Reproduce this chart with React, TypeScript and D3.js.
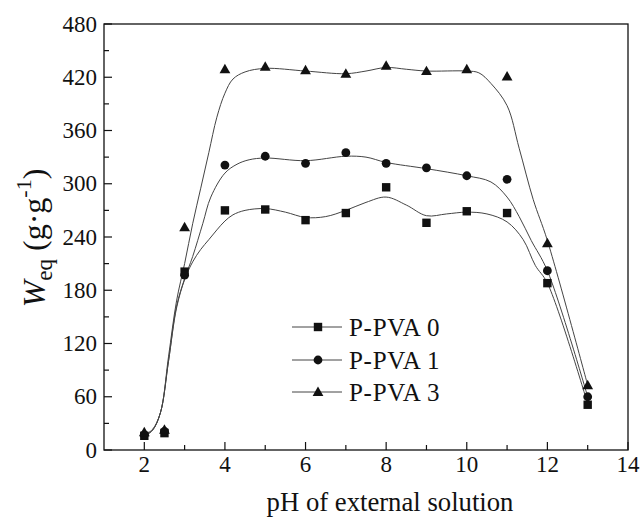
import React from "react";
import * as d3 from "d3";

const W = 642, H = 519;
const xTicksMajor = [2, 4, 6, 8, 10, 12, 14];
const xTicksMinor = [3, 5, 7, 9, 11, 13];
const yTicksMajor = [0, 60, 120, 180, 240, 300, 360, 420, 480];
const yTicksMinor = [30, 90, 150, 210, 270, 330, 390, 450];

const seriesNames = ["P-PVA 0", "P-PVA 1", "P-PVA 3"];
const pH = [2, 2.5, 3, 4, 5, 6, 7, 8, 9, 10, 11, 12, 13];
const pva0 = [16, 19, 201, 270, 271, 259, 267, 296, 256, 269, 267, 188, 51];
const pva1 = [17, 21, 197, 321, 331, 323, 335, 323, 318, 309, 305, 202, 60];
const pva3 = [20, 23, 251, 429, 432, 428, 424, 433, 427, 429, 421, 233, 73];

// fitted (smoothed) curves
const fitX0 = [2, 2.2, 2.4, 2.6, 2.8, 3, 3.2, 3.4, 3.6, 3.8, 4, 4.2, 4.5, 5, 5.5, 6, 6.5, 7, 7.5, 8, 8.5, 9, 9.5, 10, 10.5, 11, 11.4, 11.7, 12, 13];
const fitY0 = [16, 22, 42, 100, 160, 192, 212, 226, 237, 248, 258, 265, 270, 272, 268, 262, 263, 270, 279, 285, 276, 264, 266, 268, 266, 257, 237, 208, 188, 52];
const fitX1 = [2, 2.2, 2.4, 2.6, 2.8, 3, 3.2, 3.45, 3.65, 4, 4.3, 4.6, 5, 6, 7, 7.5, 8, 9, 10, 10.6, 11, 11.3, 11.6, 12, 13];
const fitY1 = [16, 22, 42, 100, 162, 193, 218, 255, 285, 312, 322, 327, 329, 326, 331, 330, 324, 317, 309, 302, 285, 263, 236, 202, 60];
const fitX3 = [2, 2.2, 2.4, 2.6, 2.8, 3, 3.2, 3.4, 3.6, 3.8, 4, 4.2, 4.5, 5, 6, 7, 7.5, 8, 8.5, 9, 10, 10.3, 10.6, 11, 11.3, 11.65, 12, 13];
const fitY3 = [17, 23, 42, 105, 168, 210, 255, 295, 335, 375, 402, 418, 426, 430, 427, 424, 427, 431, 429, 427, 427, 425, 413, 388, 340, 282, 236, 73];

const x = d3.scaleLinear().domain([1, 14]).range([104, 628]);
const y = d3.scaleLinear().domain([0, 480]).range([450, 24]);

const FONT = "'Liberation Serif', 'Times New Roman', serif";

function Marker({ kind, cx, cy }: { kind: number; cx: number; cy: number }) {
  if (kind === 0) return <rect x={cx - 4.2} y={cy - 4.2} width={8.4} height={8.4} fill="#111" />;
  if (kind === 1) return <circle cx={cx} cy={cy} r={4.4} fill="#111" />;
  const s = 5.4;
  return <path d={`M${cx},${cy - s}L${cx + s},${cy + s * 0.75}L${cx - s},${cy + s * 0.75}Z`} fill="#111" />;
}

export default function App() {
  const line = d3.line<[number, number]>().x(d => x(d[0])).y(d => y(d[1])).curve(d3.curveCatmullRom.alpha(0.5));
  const fits = [
    fitX0.map((v, i) => [v, fitY0[i]] as [number, number]),
    fitX1.map((v, i) => [v, fitY1[i]] as [number, number]),
    fitX3.map((v, i) => [v, fitY3[i]] as [number, number]),
  ];
  const data = [pva0, pva1, pva3];
  const legendY = [327, 360, 392];
  return (
    <svg width={W} height={H} style={{ position: "absolute", left: 0, top: 0, background: "#fff" }}>
      <g fontFamily={FONT}>
      {fits.map((f, i) => (
        <path key={i} d={line(f) || ""} fill="none" stroke="#444" strokeWidth={1} />
      ))}
      {data.map((s, k) => s.map((v, i) => <Marker key={k + "-" + i} kind={k} cx={x(pH[i])} cy={y(v)} />))}
      <rect x={104} y={24} width={524} height={426} fill="none" stroke="#111" strokeWidth={1.3} />
      {xTicksMajor.map(t => (
        <g key={"xm" + t}>
          <line x1={x(t)} x2={x(t)} y1={450} y2={442} stroke="#111" strokeWidth={1.2} />
          <text x={x(t)} y={472} fontSize={23} textAnchor="middle" fill="#111">{t}</text>
        </g>
      ))}
      {xTicksMinor.map(t => (
        <line key={"xn" + t} x1={x(t)} x2={x(t)} y1={450} y2={445} stroke="#111" strokeWidth={1.2} />
      ))}
      {yTicksMajor.map(t => (
        <g key={"ym" + t}>
          <line x1={104} x2={112} y1={y(t)} y2={y(t)} stroke="#111" strokeWidth={1.2} />
          <text x={97} y={y(t) + 7.5} fontSize={23} textAnchor="end" fill="#111">{t}</text>
        </g>
      ))}
      {yTicksMinor.map(t => (
        <line key={"yn" + t} x1={104} x2={109} y1={y(t)} y2={y(t)} stroke="#111" strokeWidth={1.2} />
      ))}
      {seriesNames.map((n, k) => (
        <g key={n}>
          <line x1={292} x2={342} y1={legendY[k]} y2={legendY[k]} stroke="#444" strokeWidth={1} />
          <Marker kind={k} cx={318} cy={legendY[k]} />
          <text x={349} y={legendY[k] + 8.5} fontSize={25} letterSpacing={0.7} fill="#111">{n}</text>
        </g>
      ))}
      <text x={390} y={511} fontSize={26.7} textAnchor="middle" fill="#111">pH of external solution</text>
      <text transform="translate(45,238) rotate(-90)" fontSize={32} textAnchor="middle" fill="#111">
        <tspan fontStyle="italic">W</tspan>
        <tspan dy={7} fontSize={23}>eq</tspan>
        <tspan dy={-7}> (g·g</tspan>
        <tspan dy={-14} fontSize={22}>-1</tspan>
        <tspan dy={14}>)</tspan>
      </text>
      </g>
    </svg>
  );
}
